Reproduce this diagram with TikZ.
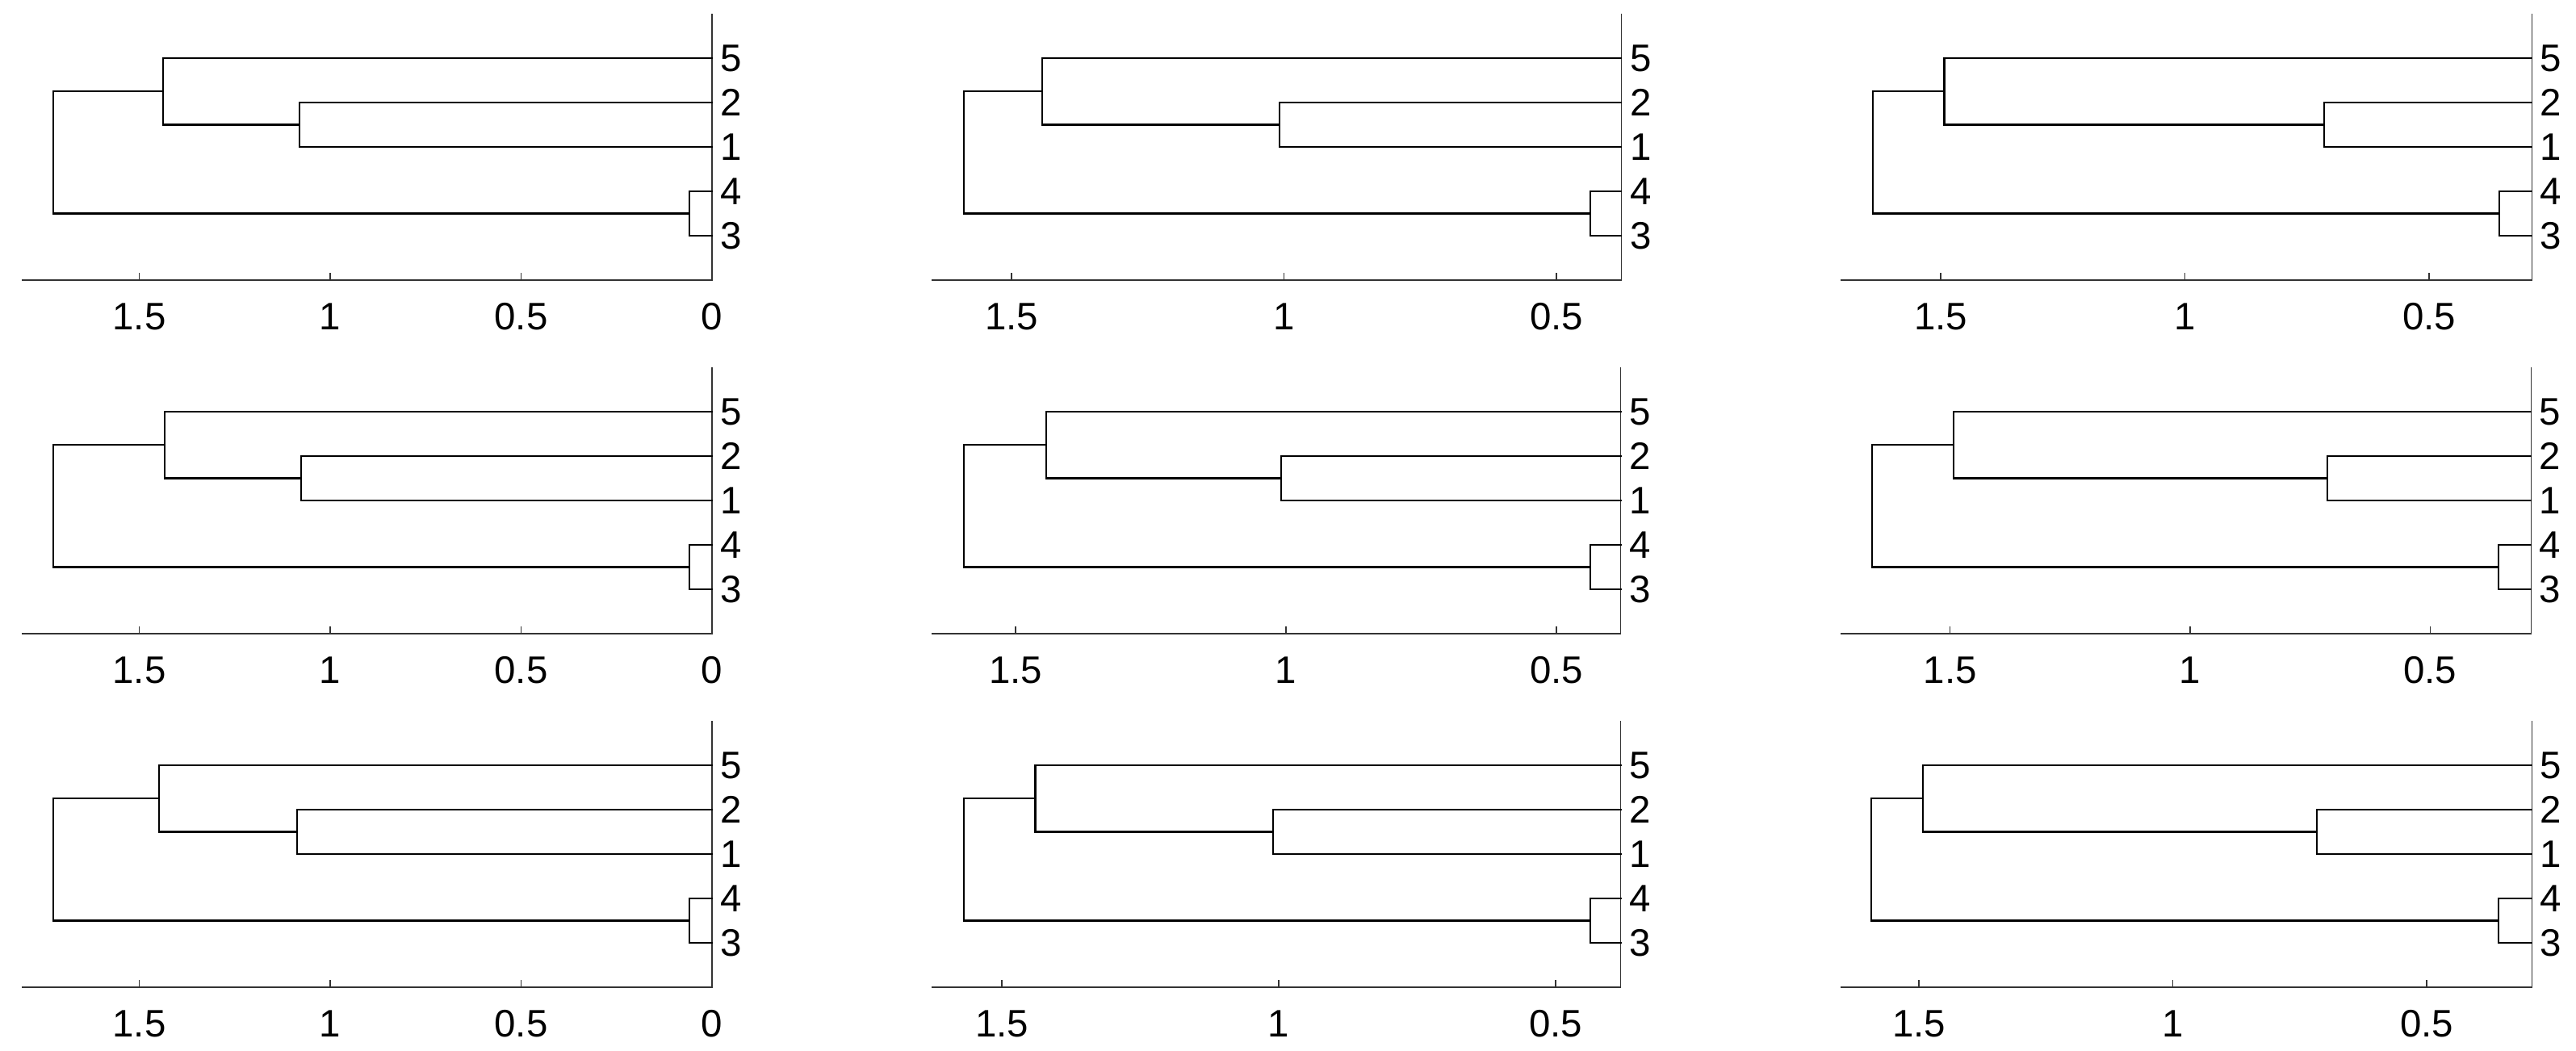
\documentclass[tikz,border=0pt]{standalone}
\usepackage{fontspec}
\setmainfont{Liberation Sans}

\begin{document}
\begin{tikzpicture}[
        link/.style={line width=0.6pt, line cap=rect},
        axisline/.style={line width=0.3pt, black!80},
        leaflabel/.style={anchor=west, inner xsep=0.1cm, inner ysep=0pt, font=\fontsize{13.5}{16}\selectfont},
        ticklabel/.style={anchor=north, inner xsep=0pt, inner ysep=0.28cm, font=\fontsize{13.5}{16}\selectfont},
        ]

        \useasboundingbox (0,0) rectangle (31.91,-13.02);

        % Panels: name / x of 0 / top / cm per unit / axis min / axis max / merges 4-3, 2-1, 5, root / ticks
        \foreach \p/\xo/\yt/\s/\vlo/\vhi/\va/\vb/\vc/\vr/\ticks in {
            a/8.82/0.17/4.73/0/1.808/0.059/1.080/1.437/1.725/{0,0.5,1,1.5},
            b/22.655/0.17/6.75/0.381/1.647/0.438/1.008/1.444/1.588/{0.5,1,1.5},
            c/33.115/0.17/6.05/0.290/1.705/0.357/0.715/1.493/1.640/{0.5,1,1.5},
            d/8.82/4.55/4.73/0/1.808/0.059/1.076/1.433/1.725/{0,0.5,1,1.5},
            e/22.63/4.55/6.70/0.381/1.655/0.437/1.009/1.443/1.596/{0.5,1,1.5},
            f/33.075/4.55/5.945/0.290/1.728/0.357/0.714/1.492/1.663/{0.5,1,1.5},
            g/8.82/8.93/4.73/0/1.808/0.059/1.087/1.448/1.725/{0,0.5,1,1.5},
            h/22.70/8.93/6.86/0.382/1.627/0.437/1.010/1.440/1.569/{0.5,1,1.5},
            i/33.205/8.93/6.29/0.293/1.654/0.358/0.716/1.493/1.594/{0.5,1,1.5}}
        {
        \begin{scope}[shift={(\xo,-\yt)}, xscale=-\s, yscale=-0.55]
            % Axes
            \draw[axisline] (\vhi,6) -- (\vlo,6) -- (\vlo,0);
            \foreach \t [count=\n] in \ticks {
                \draw[axisline] (\t,6) -- (\t,5.84);
                \node[ticklabel] (\p t\n) at (\t,6) {\t};
            }

            % Leaves
            \foreach \k/\y in {5/1,2/2,1/3,4/4,3/5} {
                \coordinate (\p l\k) at (\vlo,\y);
                \node[leaflabel] (\p n\k) at (\p l\k) {\k};
            }

            % Merges
            \coordinate (\p m21) at (\vb,2.5);
            \coordinate (\p m5) at (\vc,1.75);
            \coordinate (\p m43) at (\va,4.5);
            \coordinate (\p root) at (\vr,3.125);

            % Links
            \draw[link] (\p l2) -- (\p l2 -| \p m21) -- (\p l1 -| \p m21) -- (\p l1);
            \draw[link] (\p l5) -- (\p l5 -| \p m5) -- (\p m21 -| \p m5) -- (\p m21);
            \draw[link] (\p l4) -- (\p l4 -| \p m43) -- (\p l3 -| \p m43) -- (\p l3);
            \draw[link] (\p m5) -- (\p m5 -| \p root) -- (\p m43 -| \p root) -- (\p m43);
        \end{scope}
        }

    \end{tikzpicture}
\end{document}
